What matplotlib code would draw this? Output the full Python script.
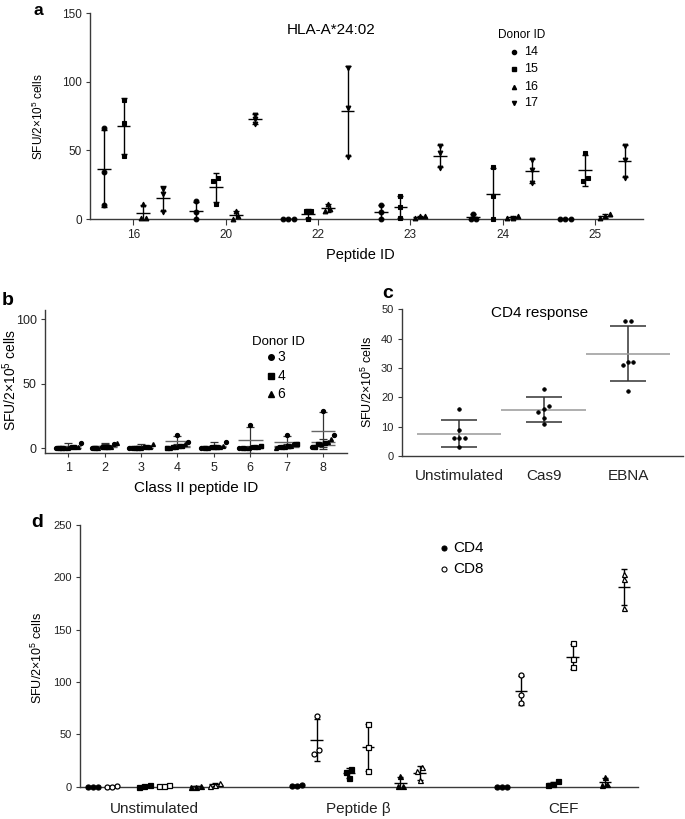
import numpy as np
import matplotlib
matplotlib.use('Agg')
import matplotlib.pyplot as plt

plt.rcParams['font.family'] = ['Liberation Sans', 'DejaVu Sans']
plt.rcParams['mathtext.fontset'] = 'custom'
plt.rcParams['mathtext.rm'] = 'Liberation Sans'
plt.rcParams['mathtext.it'] = 'Liberation Sans:italic'
plt.rcParams['mathtext.bf'] = 'Liberation Sans:bold'

# ---------------- data ----------------
# Panel a: HLA-A*24:02, 3 replicates per donor per peptide
a_peptides = ['16', '20', '22', '23', '24', '25']
a_donor_ids = ['14', '15', '16', '17']
a_d14 = [[66, 34, 10], [13, 5, 0], [0, 0, 0], [10, 5, 0], [4, 0, 0], [0, 0, 0]]
a_d15 = [[87, 70, 46], [30, 28, 11], [6, 6, 0], [17, 9, 1], [38, 17, 0], [48, 28, 30]]
a_d16 = [[11, 1, 1], [6, 2, 0], [11, 7, 6], [2, 2, 1], [2, 1, 1], [4, 2, 1]]
a_d17 = [[22, 18, 5], [76, 73, 69], [110, 81, 45], [53, 48, 37], [43, 36, 26], [53, 43, 30]]

# Panel b: class II peptides
b_peptides = ['1', '2', '3', '4', '5', '6', '7', '8']
b_donor_ids = ['3', '4', '6']
b_d3 = [[4, 1, 0], [3, 1, 0], [1, 0, 0], [10, 5, 2], [5, 1, 0], [18, 1, 0], [10, 3, 1], [29, 10, 1]]
b_d4 = [[1, 0, 0], [1, 1, 0], [1, 0, 0], [2, 1, 0], [1, 1, 0], [2, 1, 0], [3, 2, 1], [4, 3, 1]]
b_d6 = [[1, 0, 0], [4, 1, 0], [3, 1, 0], [3, 1, 0], [2, 1, 0], [1, 0, 0], [2, 1, 0], [7, 5, 3]]

# Panel c: CD4 response
c_groups = ['Unstimulated', 'Cas9', 'EBNA']
c_unstim = [16, 9, 6, 6, 6, 3]
c_cas9 = [23, 17, 16, 15, 13, 11]
c_ebna = [46, 46, 32, 32, 31, 22]

# Panel d: CD4 / CD8 for three donors
d_groups = ['Unstimulated', 'Peptide \u03b2', 'CEF']
d_cd4_don1 = [[0, 0, 0], [1, 2, 1], [0, 0, 0]]
d_cd8_don1 = [[0, 1, 0], [68, 31, 35], [107, 88, 80]]
d_cd4_don2 = [[1, 2, 0], [17, 14, 8], [5, 3, 2]]
d_cd8_don2 = [[1, 2, 1], [60, 38, 15], [137, 122, 114]]
d_cd4_don3 = [[0, 1, 0], [10, 1, 1], [9, 3, 2]]
d_cd8_don3 = [[1, 4, 2], [19, 15, 6], [203, 198, 171]]

# ---------------- helpers ----------------
W, H = 685, 819
fig = plt.figure(figsize=(6.85, 8.19), dpi=100)


def fx(p):
    return p / W


def fy(p):
    return 1 - p / H


def add_ax(l, t, r, b):
    return fig.add_axes([fx(l), fy(b), fx(r) - fx(l), (b - t) / H])


YLAB = 'SFU/2$\\times$10$^5$ cells'
SPINE = '#3a3a3a'


def style(ax, lsize):
    for s in ['top', 'right']:
        ax.spines[s].set_visible(False)
    for s in ['left', 'bottom']:
        ax.spines[s].set_color(SPINE)
        ax.spines[s].set_linewidth(1.0)
    ax.tick_params(colors=SPINE, labelcolor='#222222', length=3, width=0.8,
                   labelsize=lsize, pad=3)


def swarm(vals, ytol, dx):
    vals = np.asarray(vals, float)
    order = np.argsort(vals, kind='stable')
    offs = np.zeros(len(vals))
    clusters, cur = [], [order[0]]
    for i in order[1:]:
        if vals[i] - vals[cur[-1]] <= ytol:
            cur.append(i)
        else:
            clusters.append(cur)
            cur = [i]
    clusters.append(cur)
    for c in clusters:
        n = len(c)
        for k, i in enumerate(c):
            offs[i] = (k - (n - 1) / 2) * dx
    return offs


def column(ax, x, vals, marker, ms, ytol, dx, half, capsize,
           mfc='black', mec='black', lc='black', mlc=None, lw=1.0, mew=0.8):
    vals = np.asarray(vals, float)
    m = vals.mean()
    sd = vals.std(ddof=1)
    ax.errorbar([x], [m], yerr=[sd], fmt='none', ecolor=lc, elinewidth=lw,
                capsize=capsize, capthick=lw, zorder=2)
    ax.hlines(m, x - half, x + half, colors=mlc or lc, linewidth=lw, zorder=2)
    offs = swarm(vals, ytol, dx)
    ax.plot(x + offs, vals, linestyle='none', marker=marker, ms=ms, mfc=mfc,
            mec=mec, mew=mew, zorder=3, clip_on=False)


def panel_letter(x, ybase, s, size=14):
    fig.text(fx(x), fy(ybase), s, ha='center', va='baseline', fontsize=size,
             fontweight='bold')


# ---------------- panel a ----------------
ax = add_ax(90, 13, 643, 219)
style(ax, 8.5)
a_series = [a_d14, a_d15, a_d16, a_d17]
a_markers = ['o', 's', '^', 'v']
a_offsets = [-0.32, -0.107, 0.107, 0.32]
for d, (ser, mk, off) in enumerate(zip(a_series, a_markers, a_offsets)):
    for i, vals in enumerate(ser):
        column(ax, i + off, vals, mk, 3.4, 2.5, 0.055, 0.075, 2.2, lw=1.0)
ax.set_xlim(-0.47, 5.52)
ax.set_ylim(0, 150)
ax.set_yticks([0, 50, 100, 150])
ax.set_xticks(range(len(a_peptides)))
ax.set_xticklabels(a_peptides)
ax.tick_params(axis='x', length=4)
fig.text(fx(38), fy(117), YLAB, rotation=90, ha='center', va='center', fontsize=8.5)
fig.text(fx(360), fy(255), 'Peptide ID', ha='center', va='center', fontsize=10.5)
fig.text(fx(331), fy(29.5), 'HLA-A*24:02', ha='center', va='center', fontsize=11)
fig.text(fx(522), fy(35), 'Donor ID', ha='center', va='center', fontsize=8.5)
for k, (lab, mk) in enumerate(zip(a_donor_ids, a_markers)):
    yy = [52.3, 69, 86.7, 103.3][k]
    fig.lines.append(plt.Line2D([fx(514.3)], [fy(yy)], marker=mk, ms=3,
                                color='black', linestyle='none',
                                transform=fig.transFigure, figure=fig))
    fig.text(fx(524), fy(yy), lab, ha='left', va='center', fontsize=9)
panel_letter(38, 15, 'a', size=12.5)

# ---------------- panel b ----------------
ax = add_ax(45, 310, 346.7, 453.3)
style(ax, 9)
b_series = [b_d3, b_d4, b_d6]
b_markers = ['o', 's', '^']
for i in range(len(b_peptides)):
    allv = np.concatenate([b_series[d][i] for d in range(3)]).astype(float)
    offs = swarm(allv, 3.0, 0.085)
    for d in range(3):
        vals = np.asarray(b_series[d][i], float)
        m, sd = vals.mean(), vals.std(ddof=1)
        x = i + 1
        ax.errorbar([x], [m], yerr=[sd], fmt='none', ecolor='#333333',
                    elinewidth=0.9, capsize=3, capthick=0.9, zorder=2)
        ax.hlines(m, x - 0.34, x + 0.34, colors='#666666', linewidth=1.0, zorder=2)
        ax.plot(x + offs[d * 3:(d + 1) * 3], vals, linestyle='none',
                marker=b_markers[d], ms=2.8, color='black', zorder=3, clip_on=False)
ax.set_xlim(0.36, 8.65)
ax.set_ylim(-4, 107)
ax.set_yticks([0, 50, 100])
ax.set_xticks(range(1, len(b_peptides) + 1))
ax.set_xticklabels(b_peptides)
fig.text(fx(10), fy(380), YLAB, rotation=90, ha='center', va='center', fontsize=10)
fig.text(fx(196), fy(488), 'Class II peptide ID', ha='center', va='center', fontsize=11)
fig.text(fx(278), fy(341.7), 'Donor ID', ha='center', va='center', fontsize=9.5)
for k, (lab, mk) in enumerate(zip(b_donor_ids, b_markers)):
    yy = [357.3, 375.7, 394][k]
    fig.lines.append(plt.Line2D([fx(270.7)], [fy(yy)], marker=mk, ms=4,
                                color='black', linestyle='none',
                                transform=fig.transFigure, figure=fig))
    fig.text(fx(277.5), fy(yy), lab, ha='left', va='center', fontsize=10)
panel_letter(8, 305, 'b')

# ---------------- panel c ----------------
ax = add_ax(401.7, 309.3, 683, 456)
style(ax, 8)
for i, vals in enumerate([c_unstim, c_cas9, c_ebna]):
    column(ax, i, vals, 'o', 2.6, 1.5, 0.064, 0.5, 13, lc='#333333',
           mlc='#999999', lw=1.1, mew=0.5)
ax.set_xlim(-0.68, 2.65)
ax.set_ylim(0, 50)
ax.set_yticks(range(0, 51, 10))
ax.set_xticks(range(3))
ax.set_xticklabels(c_groups, fontsize=11)
ax.tick_params(axis='x', length=0, pad=9)
fig.text(fx(367), fy(381.5), YLAB, rotation=90, ha='center', va='center', fontsize=9)
fig.text(fx(540), fy(313), 'CD4 response', ha='center', va='center', fontsize=11)
panel_letter(388, 298.5, 'c')

# ---------------- panel d ----------------
ax = add_ax(80, 525, 638, 786.7)
style(ax, 8)
d_series = [(d_cd4_don1, 'o', 'black'), (d_cd8_don1, 'o', 'white'),
            (d_cd4_don2, 's', 'black'), (d_cd8_don2, 's', 'white'),
            (d_cd4_don3, '^', 'black'), (d_cd8_don3, '^', 'white')]
d_offsets = [-0.299, -0.205, -0.047, 0.047, 0.205, 0.299]
for (ser, mk, fc), off in zip(d_series, d_offsets):
    for i, vals in enumerate(ser):
        column(ax, i + off, vals, mk, 3.6, 4.0, 0.025, 0.03, 2.2,
               mfc=fc, mec='black', lw=1.0, mew=0.9)
ax.set_xlim(-0.362, 2.367)
ax.set_ylim(0, 250)
ax.set_yticks(range(0, 251, 50))
ax.set_xticks(range(3))
ax.set_xticklabels(d_groups, fontsize=11)
ax.tick_params(axis='x', length=0, pad=11)
fig.text(fx(37.5), fy(658), YLAB, rotation=90, ha='center', va='center', fontsize=9)
for k, (lab, fc) in enumerate([('CD4', 'black'), ('CD8', 'white')]):
    yy = [548.3, 569][k]
    fig.lines.append(plt.Line2D([fx(443.5)], [fy(yy)], marker='o', ms=3.6,
                                mfc=fc, mec='black', mew=0.8, linestyle='none',
                                transform=fig.transFigure, figure=fig))
    fig.text(fx(453), fy(yy), lab, ha='left', va='center', fontsize=11)
panel_letter(37, 527, 'd')

fig.savefig('out.png', dpi=100)
